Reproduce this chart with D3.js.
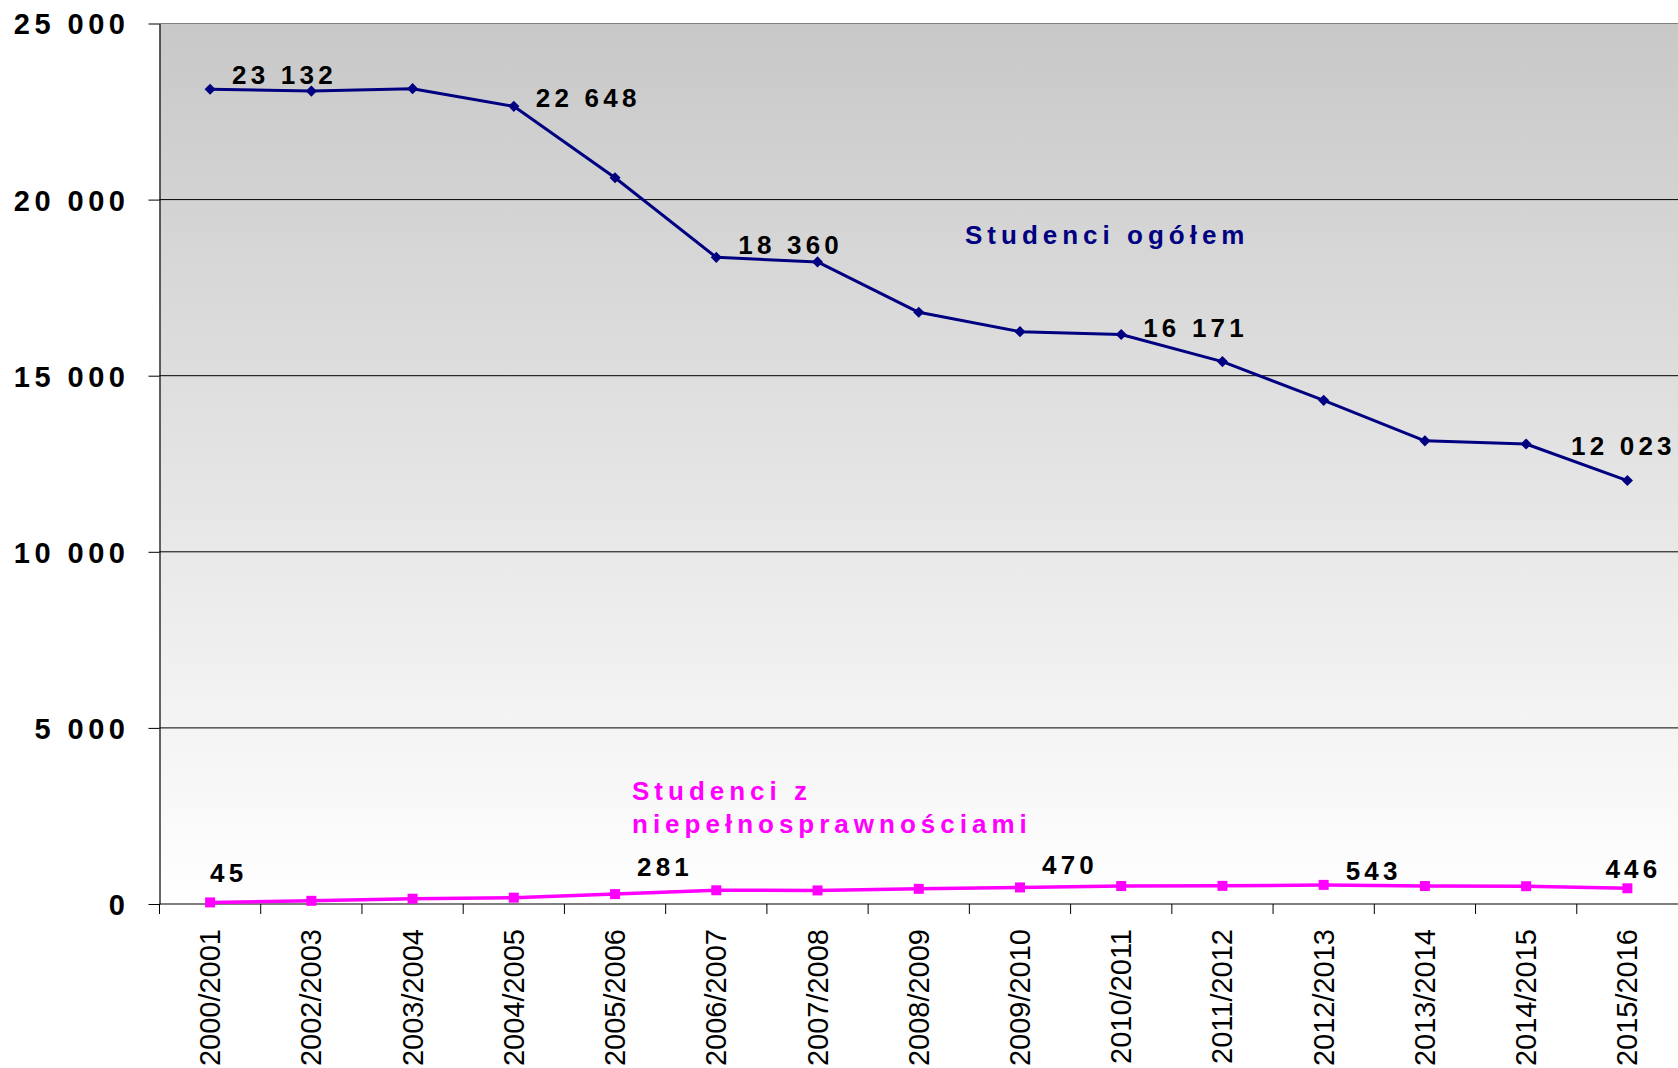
<!DOCTYPE html>
<html>
<head>
<meta charset="utf-8">
<script src="https://cdn.jsdelivr.net/npm/d3@7"></script>
<style>
  html, body { margin: 0; padding: 0; background: #fff; }
  svg { display: block; }
  text { font-family: "Liberation Sans", Arial, sans-serif; }
</style>
</head>
<body>
<div id="viz"></div>
<script>
// academic years on the category axis
var years = ['2000/2001', '2002/2003', '2003/2004', '2004/2005', '2005/2006',
  '2006/2007', '2007/2008', '2008/2009', '2009/2010', '2010/2011',
  '2011/2012', '2012/2013', '2013/2014', '2014/2015', '2015/2016'];

// Studenci ogółem (all students)
var allStudents = [23132, 23080, 23150, 22648, 20620, 18360, 18230, 16800,
  16250, 16171, 15400, 14300, 13150, 13060, 12023];

// Studenci z niepełnosprawnościami (students with disabilities)
var disabledStudents = [45, 90, 150, 180, 281, 390, 385, 430, 470, 510,
  515, 543, 510, 505, 446];

// which points get a value label
var allLabelIdx = [0, 3, 5, 9, 14];
var disabledLabelIdx = [0, 4, 8, 11, 14];

var yTicks = [0, 5000, 10000, 15000, 20000, 25000];

var width = 1678, height = 1068;
var plotLeft = 159.5, plotRight = 1678, plotTop = 23.5, plotBottom = 904;

var svg = d3.select('#viz').append('svg')
  .attr('width', width)
  .attr('height', height);

var x = d3.scaleBand().domain(years).range([plotLeft, plotRight]).padding(0);
var y = d3.scaleLinear().domain([0, 25000]).range([plotBottom, plotTop]);
function cx(i) { return x(years[i]) + x.bandwidth() / 2; }

// thousands with a space, like "25 000"
function fmt(v) { return d3.format(',')(v).replace(/,/g, ' '); }

// plot background: grey at the top fading to white
var grad = svg.append('defs').append('linearGradient')
  .attr('id', 'bg').attr('x1', 0).attr('y1', 0).attr('x2', 0).attr('y2', 1);
grad.append('stop').attr('offset', '0%').attr('stop-color', '#c8c8c8');
grad.append('stop').attr('offset', '100%').attr('stop-color', '#ffffff');

svg.append('rect')
  .attr('x', plotLeft).attr('y', plotTop)
  .attr('width', plotRight - plotLeft).attr('height', plotBottom - plotTop)
  .attr('fill', 'url(#bg)');

// gridlines
svg.append('g').selectAll('line')
  .data(yTicks.filter(function(d) { return d > 0; }))
  .enter().append('line')
  .attr('x1', plotLeft).attr('x2', plotRight)
  .attr('y1', function(d) { return y(d); })
  .attr('y2', function(d) { return y(d); })
  .attr('stroke', function(d) { return d === 25000 ? '#808080' : '#000'; })
  .attr('stroke-width', 1);

// y axis
var yAxis = svg.append('g')
  .attr('transform', 'translate(' + plotLeft + ',0)')
  .call(d3.axisLeft(y).tickValues(yTicks).tickFormat(fmt).tickSize(11).tickSizeOuter(0));
yAxis.select('.domain').attr('stroke', '#000').attr('stroke-width', 1.2);
yAxis.selectAll('.tick line').attr('stroke', '#000');
yAxis.selectAll('.tick text')
  .attr('x', -30)
  .attr('dy', '0.36em')
  .attr('fill', '#000')
  .style('font-family', '"Liberation Sans", Arial, sans-serif')
  .style('font-size', '29px')
  .style('font-weight', 'bold')
  .style('letter-spacing', '4.5px');

// x axis baseline and ticks between categories
svg.append('line')
  .attr('x1', plotLeft).attr('x2', plotRight)
  .attr('y1', plotBottom).attr('y2', plotBottom)
  .attr('stroke', '#000').attr('stroke-width', 1.2);

svg.append('g').selectAll('line')
  .data(years)
  .enter().append('line')
  .attr('x1', function(d) { return x(d); })
  .attr('x2', function(d) { return x(d); })
  .attr('y1', plotBottom).attr('y2', plotBottom + 10)
  .attr('stroke', '#000');

// rotated category labels
svg.append('g').selectAll('text')
  .data(years)
  .enter().append('text')
  .attr('transform', function(d) {
    return 'translate(' + (x(d) + x.bandwidth() / 2 + 10) + ',' + (plotBottom + 25) + ') rotate(-90)';
  })
  .attr('text-anchor', 'end')
  .attr('fill', '#000')
  .style('font-size', '29px')
  .text(function(d) { return d; });

// series lines + markers
function drawSeries(values, color, lineWidth, symbol, symSize, rotate) {
  var line = d3.line()
    .x(function(d, i) { return cx(i); })
    .y(function(d) { return y(d); });

  svg.append('path')
    .datum(values)
    .attr('fill', 'none')
    .attr('stroke', color)
    .attr('stroke-width', lineWidth)
    .attr('stroke-linejoin', 'round')
    .attr('d', line);

  svg.append('g').selectAll('path')
    .data(values)
    .enter().append('path')
    .attr('d', d3.symbol().type(symbol).size(symSize))
    .attr('transform', function(d, i) {
      return 'translate(' + cx(i) + ',' + y(d) + ') rotate(' + rotate + ')';
    })
    .attr('fill', color);
}

drawSeries(allStudents, '#000080', 3, d3.symbolSquare, 62, 45);
drawSeries(disabledStudents, '#ff00ff', 3.5, d3.symbolSquare, 100, 0);

// value labels; offsets are layout only: [dx, dy, anchor]
var allLabelPos = {0: [22, -5, 'start'], 3: [22, 1, 'start'], 5: [22, -3, 'start'],
  9: [22, 3, 'start'], 14: [-4, -26, 'middle']};
var disLabelPos = {0: [0, -20, 'start'], 4: [22, -18, 'start'], 8: [22, -13, 'start'],
  11: [22, -5, 'start'], 14: [6, -10, 'middle']};

function drawLabels(values, idx, pos) {
  svg.append('g').selectAll('text')
    .data(idx)
    .enter().append('text')
    .attr('x', function(i) { return cx(i) + pos[i][0]; })
    .attr('y', function(i) { return y(values[i]) + pos[i][1]; })
    .attr('text-anchor', function(i) { return pos[i][2]; })
    .attr('fill', '#000')
    .style('font-size', '26px')
    .style('font-weight', 'bold')
    .style('letter-spacing', '4.2px')
    .text(function(i) { return fmt(values[i]); });
}

drawLabels(allStudents, allLabelIdx, allLabelPos);
drawLabels(disabledStudents, disabledLabelIdx, disLabelPos);

// series names
svg.append('text')
  .attr('x', 965).attr('y', 244)
  .attr('fill', '#000080')
  .style('font-size', '26px')
  .style('font-weight', 'bold')
  .style('letter-spacing', '5px')
  .text('Studenci ogółem');

var pinkName = svg.append('text')
  .attr('x', 632).attr('y', 800)
  .attr('fill', '#ff00ff')
  .style('font-size', '26px')
  .style('font-weight', 'bold')
  .style('letter-spacing', '5px');
pinkName.append('tspan').attr('x', 632).text('Studenci z');
pinkName.append('tspan').attr('x', 632).attr('dy', 33).text('niepełnosprawnościami');
</script>
</body>
</html>
